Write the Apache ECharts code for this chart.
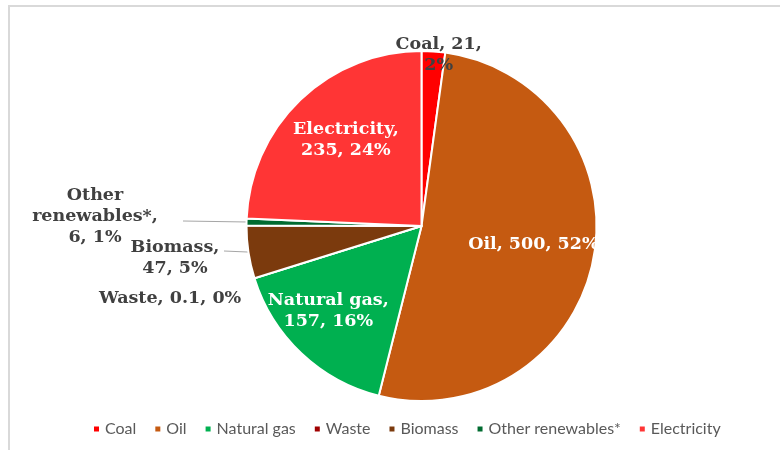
<!DOCTYPE html>
<html>
<head>
<meta charset="utf-8">
<script src="https://cdn.jsdelivr.net/npm/echarts@6/dist/echarts.min.js"></script>
<style>
  html, body { margin: 0; padding: 0; background: #ffffff; }
  #chart { width: 780px; height: 450px; }
</style>
</head>
<body>
<div id="chart"></div>
<script>
// Final energy consumption by source
const categories = ['Coal', 'Oil', 'Natural gas', 'Waste', 'Biomass', 'Other renewables*', 'Electricity'];
const values = [21, 500, 157, 0.1, 47, 6, 235];
const colors = ['#ff0000', '#c55a11', '#00b050', '#a00000', '#7b3a0d', '#006b30', '#ff3535'];

// How each data label wraps, its colour and where it sits relative to its slice
const labelPlacement = [
  { wrap: 'value', dx: 11, dy: -81, dark: true },
  { wrap: 'none', dx: 23, dy: 1 },
  { wrap: 'name', dx: -31, dy: 19 },
  { wrap: 'none', dx: -165, dy: 45, dark: true },
  { wrap: 'name', x: 175, y: 258, lineEnd: [224, 251], dark: true },
  { wrap: 'words', x: 95, y: 216, lineEnd: [183, 221], dark: true },
  { wrap: 'name', dx: -13, dy: -21 }
];

const total = values.reduce((a, b) => a + b, 0);

function labelText(i) {
  const name = categories[i];
  const v = values[i];
  const pct = Math.round(v / total * 100) + '%';
  switch (labelPlacement[i].wrap) {
    case 'value': return name + ', ' + v + ',\n' + pct;
    case 'name': return name + ',\n' + v + ', ' + pct;
    case 'words': return name.replace(' ', '\n') + ',\n' + v + ', ' + pct;
    default: return name + ', ' + v + ', ' + pct;
  }
}

const labelFont = {
  fontFamily: '"DejaVu Serif", serif',
  fontWeight: 'bold',
  fontSize: 17.5,
  lineHeight: 21
};

const seriesData = categories.map((name, i) => {
  const p = labelPlacement[i];
  const withLine = p.lineEnd != null;
  return {
    name: name,
    value: values[i],
    itemStyle: { color: colors[i] },
    label: Object.assign({
      show: true,
      position: withLine ? 'outside' : 'inside',
      color: p.dark ? '#404040' : '#ffffff',
      formatter: () => labelText(i)
    }, labelFont),
    labelLine: { show: withLine, lineStyle: { color: '#a6a6a6', width: 1 } }
  };
});

const chart = echarts.init(document.getElementById('chart'), null, { renderer: 'canvas' });

chart.setOption({
  animation: false,
  backgroundColor: '#ffffff',
  graphic: [{
    type: 'rect',
    silent: true,
    z: -10,
    shape: { x: 9, y: 6, width: 1000, height: 1000 },
    style: { fill: 'none', stroke: '#d9d9d9', lineWidth: 2 }
  }],
  legend: {
    data: categories,
    left: 87,
    top: 416,
    icon: 'rect',
    itemWidth: 7,
    itemHeight: 7,
    itemGap: 17,
    selectedMode: false,
    textStyle: { color: '#595959', fontSize: 16, fontFamily: 'Lato, sans-serif' }
  },
  series: [{
    type: 'pie',
    center: [421.5, 226],
    radius: 175,
    startAngle: 90,
    clockwise: true,
    avoidLabelOverlap: false,
    itemStyle: { borderColor: '#ffffff', borderWidth: 2 },
    emphasis: { disabled: true },
    data: seriesData,
    labelLayout: function (params) {
      const p = labelPlacement[params.dataIndex];
      if (p.x != null) {
        const start = params.labelLinePoints ? params.labelLinePoints[0] : p.lineEnd;
        return {
          x: p.x,
          y: p.y,
          align: 'center',
          verticalAlign: 'middle',
          labelLinePoints: [start, p.lineEnd]
        };
      }
      return { dx: p.dx, dy: p.dy };
    }
  }]
});
</script>
</body>
</html>
